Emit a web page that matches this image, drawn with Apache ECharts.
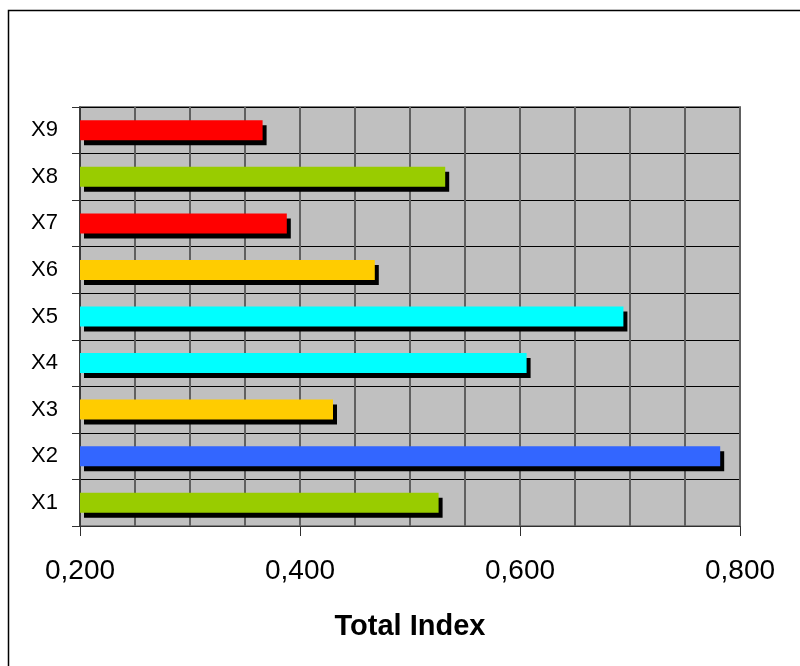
<!DOCTYPE html>
<html lang="en">
  <head>
    <meta charset="UTF-8" />
    <script src="https://cdn.jsdelivr.net/npm/echarts@6/dist/echarts.min.js"></script>
    <title>Total Index</title>
    <style>
      html,
      body,
      #chart {
        width: 100%;
        height: 100%;
        margin: 0;
        padding: 0;
        overflow: hidden;
        background: #fff;
      }
    </style>
  </head>
  <body>
    <div id="chart"></div>
    <script>
      // data, bottom to top
      const categories = ["X1", "X2", "X3", "X4", "X5", "X6", "X7", "X8", "X9"];
      const totalIndex = [0.526, 0.782, 0.43, 0.606, 0.694, 0.468, 0.388, 0.532, 0.366];
      const xTicks = [0.2, 0.4, 0.6, 0.8];
      const axisName = "Total Index";

      const barColors = [
        "#99cc00", "#3366ff", "#ffcc00", "#00ffff", "#00ffff",
        "#ffcc00", "#ff0000", "#99cc00", "#ff0000",
      ];

      const font = "'Liberation Sans', Arial, sans-serif";
      const myChart = echarts.init(document.getElementById("chart"));

      const option = {
        animation: false,
        graphic: [
          {
            type: "rect",
            shape: { x: 8.5, y: 10.5, width: 820, height: 700 },
            style: { fill: "none", stroke: "#000", lineWidth: 1.5 },
            z: 100,
          },
        ],
        grid: {
          left: 80,
          right: 60,
          top: 107,
          bottom: 140,
          show: true,
          backgroundColor: "#c0c0c0",
          borderColor: "#808080",
          borderWidth: 2,
        },
        xAxis: {
          type: "value",
          min: xTicks[0],
          max: xTicks[xTicks.length - 1],
          interval: xTicks[1] - xTicks[0],
          name: axisName,
          nameLocation: "middle",
          nameGap: 86,
          nameTextStyle: {
            fontFamily: font,
            fontSize: 29,
            fontWeight: "bold",
            color: "#000",
          },
          axisLine: { show: true, lineStyle: { color: "#303030", width: 1 } },
          axisTick: { show: true, length: 10, lineStyle: { color: "#303030" } },
          axisLabel: {
            margin: 31,
            fontFamily: font,
            fontSize: 28,
            color: "#000",
            formatter: (v) => v.toFixed(3).replace(".", ","),
          },
          splitLine: { show: true, lineStyle: { color: "#606060", width: 2 } },
          minorTick: { show: false, splitNumber: 4 },
          minorSplitLine: { show: true, lineStyle: { color: "#606060", width: 2 } },
        },
        yAxis: {
          type: "category",
          data: categories,
          axisLine: { show: true, lineStyle: { color: "#303030", width: 1.5 } },
          axisTick: { show: true, length: 8, lineStyle: { color: "#303030" } },
          axisLabel: {
            margin: 22,
            fontFamily: font,
            fontSize: 22,
            color: "#000",
          },
          splitLine: { show: true, lineStyle: { color: "#000", width: 1 } },
        },
        series: [
          {
            type: "bar",
            data: totalIndex.map((v, i) => ({
              value: v,
              itemStyle: { color: barColors[i] },
            })),
            barWidth: 20,
            itemStyle: {
              shadowColor: "#000",
              shadowBlur: 0,
              shadowOffsetX: 4,
              shadowOffsetY: 5,
            },
          },
        ],
      };

      myChart.setOption(option);
    </script>
  </body>
</html>
